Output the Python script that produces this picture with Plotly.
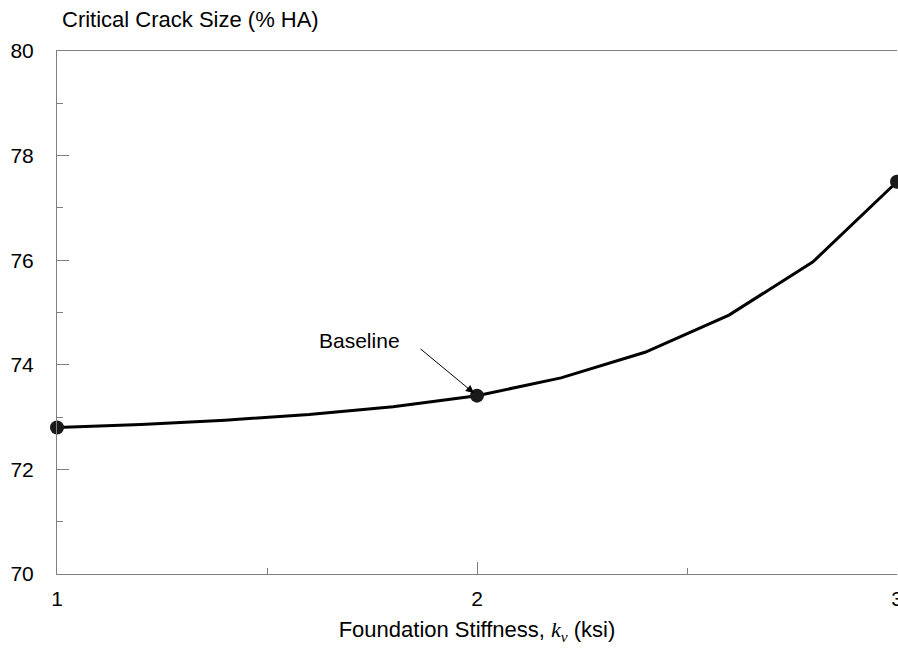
import plotly.graph_objects as go

# Foundation stiffness k_v (ksi) and critical crack size (% HA)
stiffness = [1.0, 1.2, 1.4, 1.6, 1.8, 2.0, 2.2, 2.4, 2.6, 2.8, 3.0]
crack_size = [72.8, 72.86, 72.94, 73.05, 73.2, 73.41, 73.75, 74.24, 74.95, 75.97, 77.5]

# Highlighted points (ends and baseline case)
marked_x = [1.0, 2.0, 3.0]
marked_y = [72.8, 73.41, 77.5]

x_ticks = [1, 2, 3]
y_ticks = [70, 72, 74, 76, 78, 80]

axis_grey = "#7f7f7f"
font_family = "Liberation Sans, Arial, sans-serif"

# Plot-area geometry in pixels
ML, MR, MT, MB = 57, 1, 51, 80
W, H = 898, 654
plot_h = H - MT - MB
plot_w = W - ML - MR

fig = go.Figure()

fig.add_trace(go.Scatter(
    x=stiffness, y=crack_size, mode="lines",
    line=dict(color="black", width=3),
    cliponaxis=False, showlegend=False, hoverinfo="skip",
))

fig.add_trace(go.Scatter(
    x=marked_x, y=marked_y, mode="markers",
    marker=dict(color="#1a1a1a", size=14),
    cliponaxis=False, showlegend=False,
))

# Baseline call-out: text plus a separate arrow to the marker
fig.add_annotation(
    x=1.721, y=74.47, xref="x", yref="y", text="Baseline",
    showarrow=False, font=dict(family=font_family, size=21, color="black"),
)
fig.add_annotation(
    x=2.0, y=73.41, xref="x", yref="y", text="",
    showarrow=True, ax=-58, ay=-48, axref="pixel", ayref="pixel",
    arrowhead=2, arrowsize=1.6, arrowwidth=1, arrowcolor="black", standoff=4,
)

# Y-axis heading placed above the plot
fig.add_annotation(
    x=(60 - ML) / plot_w, y=1 + (MT - 19) / plot_h,
    xref="paper", yref="paper", text="Critical Crack Size (% HA)",
    showarrow=False, xanchor="left", yanchor="middle",
    font=dict(family=font_family, size=22, color="black"),
)

fig.update_layout(
    width=W, height=H,
    margin=dict(l=ML, r=MR, t=MT, b=MB, autoexpand=False),
    paper_bgcolor="white", plot_bgcolor="white",
    font=dict(family=font_family, size=21, color="black"),
    xaxis=dict(
        range=[1, 3], tickvals=x_ticks, ticktext=[str(v) for v in x_ticks],
        ticklabeloverflow="allow", automargin=False,
        showgrid=False, zeroline=False,
        showline=True, linecolor=axis_grey, linewidth=1, mirror=True,
        ticks="inside", ticklen=12, tickcolor=axis_grey, tickwidth=1,
        minor=dict(dtick=0.5, ticks="inside", ticklen=6, tickcolor=axis_grey, tickwidth=1),
        ticklabelstandoff=6,
        title=dict(
            text='Foundation Stiffness, <span style="font-family:Liberation Serif, Times New Roman, serif"><i>k<sub>v</sub></i></span> (ksi)',
            font=dict(family=font_family, size=22), standoff=12,
        ),
    ),
    yaxis=dict(
        range=[70, 80], tickvals=y_ticks, automargin=False,
        showgrid=False, zeroline=False,
        showline=True, linecolor=axis_grey, linewidth=1,
        ticks="inside", ticklen=12, tickcolor=axis_grey, tickwidth=1,
        minor=dict(dtick=1, ticks="inside", ticklen=6, tickcolor=axis_grey, tickwidth=1),
        ticklabelstandoff=18,
    ),
)

fig.write_html("out.html")
